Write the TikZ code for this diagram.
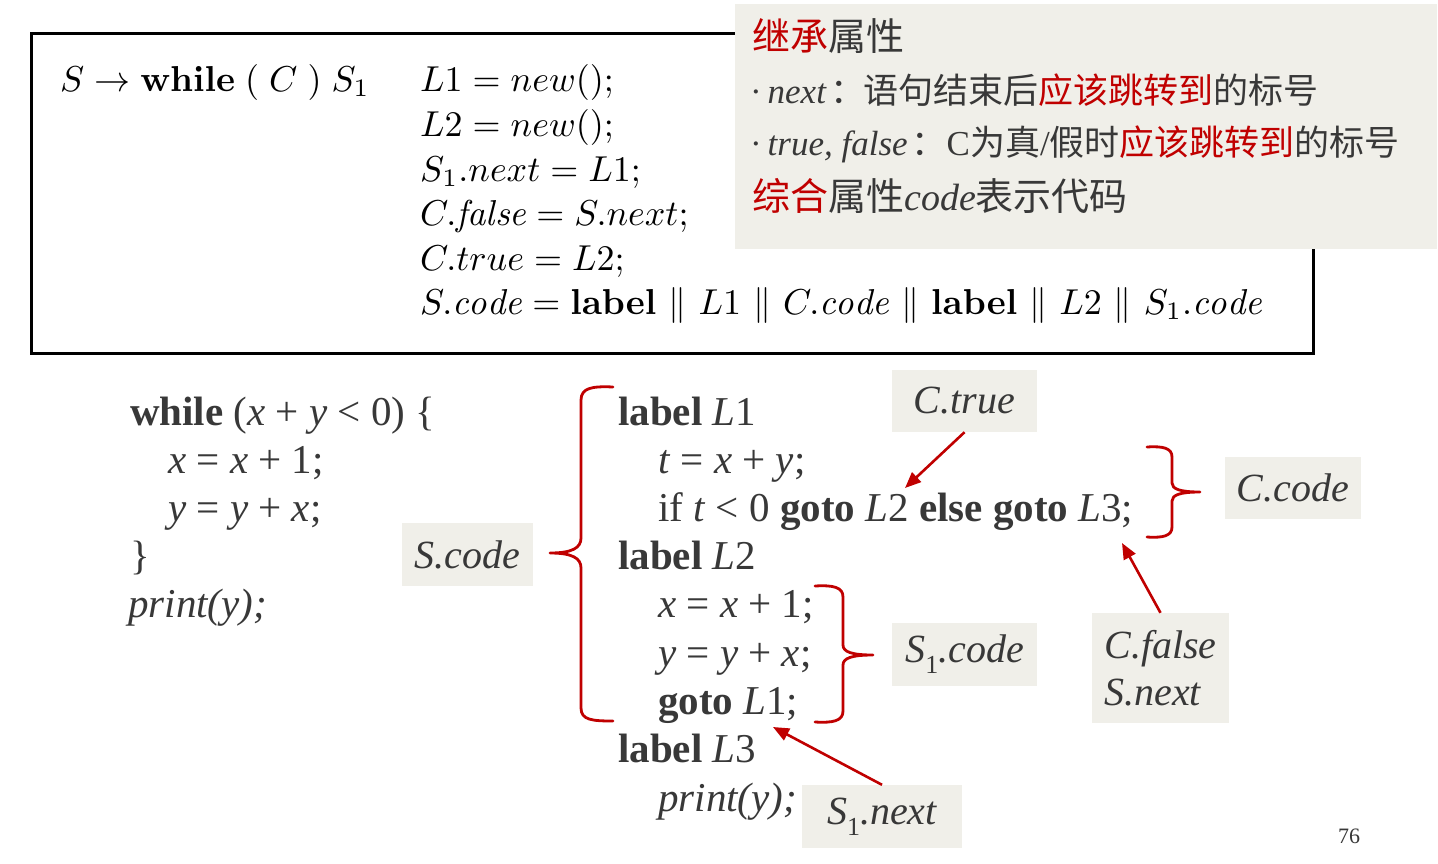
\documentclass[tikz,border=0pt]{standalone}
\usepackage{graphicx}
\usepackage{fontspec}
\newfontfamily\cjk{Noto Sans CJK SC}
\newfontfamily\pal{Liberation Serif}
\usetikzlibrary{arrows.meta}
\definecolor{dred}{HTML}{C00000}
\definecolor{notebg}{HTML}{F0EFE9}
\definecolor{txt}{HTML}{383838}
\newcommand\zh[1]{{\cjk #1}}
\newcommand\subone{\raisebox{-0.28em}{\upshape\fontsize{26}{26}\selectfont 1}}
\newcommand\bigmath[1]{\scalebox{3.6}{\fontsize{10}{12}\selectfont$#1$}}
\newcommand\cmbx[1]{\hbox{\usefont{OT1}{cmr}{bx}{n}#1}}
\newcommand\pll{\mathrel{\mkern1mu\|\mkern1mu}}
\begin{document}
\begin{tikzpicture}[x=1pt,y=-1pt,
  toptxt/.style={anchor=base west,inner sep=0pt,text=black},
  codetxt/.style={anchor=base west,inner sep=0pt,font=\pal\fontsize{41}{48}\selectfont,text=txt},
  notetxt/.style={anchor=base west,inner sep=0pt,font=\pal\fontsize{35}{42}\selectfont,text=txt},
  notebig/.style={notetxt,font=\pal\fontsize{38}{44}\selectfont},
  tag/.style={fill=notebg,inner sep=0pt,font=\pal\itshape\fontsize{40}{47}\selectfont,text=txt},
  bracestyle/.style={draw=dred,line width=2.8pt,line join=round,line cap=round},
  arr/.style={draw=dred,line width=2.6pt,-{Triangle[length=16pt,width=13pt]}}]
\useasboundingbox (0,0) rectangle (1438,863);
\fill[white] (0,0) rectangle (1438,863);

% top rule box
\draw[line width=3pt] (31,33) rectangle (1313,353);
\node[toptxt] (prod) at (60,91) {\bigmath{S \rightarrow \cmbx{while}\;(\;C\;)\;S_1}};
\node[toptxt] (r1) at (420,91) {\bigmath{L1 = new();}};
\node[toptxt] (r2) at (420,136) {\bigmath{L2 = new();}};
\node[toptxt] (r3) at (420,181) {\bigmath{S_1.next = L1;}};
\node[toptxt] (r4) at (420,225) {\bigmath{C.\mathit{false} = S.next;}};
\node[toptxt] (r5) at (420,270) {\bigmath{C.true = L2;}};
\node[toptxt] (r6) at (420,314) {\bigmath{S.\mathit{code} = \cmbx{label} \pll L1 \pll C.\mathit{code} \pll \cmbx{label} \pll L2 \pll S_1.\mathit{code}}};

% note box
\fill[notebg] (735,4) rectangle (1437,249);
\node[notebig] (n1) at (752,50) {\zh{\textcolor{dred}{继承}属性}};
\node[notetxt] (n2) at (750,103) {·\,\textit{next}\hspace{4pt}\zh{：\hspace{-2pt}语句结束后\textcolor{dred}{应该跳转到}的标号}};
\node[notetxt] (n3) at (750,155) {·\,\textit{true, false}\hspace{4pt}\zh{：}C\zh{为真}/\zh{假时\textcolor{dred}{应该跳转到}的标号}};
\node[notebig] (n4) at (752,210) {\zh{\textcolor{dred}{综合}属性}\textit{code}\zh{表示代码}};

% source code
\node[codetxt] (w1) at (130,425) {\textbf{while} (\textit{x} + \textit{y} < 0) \{};
\node[codetxt] (w2) at (168,473) {\textit{x} = \textit{x} + 1;};
\node[codetxt] (w3) at (168,521) {\textit{y} = \textit{y} + \textit{x};};
\node[codetxt] (w4) at (130,569) {\}};
\node[codetxt] (w5) at (128,617) {\textit{print(y);}};

% generated code
\node[codetxt] (m1) at (618,425) {\textbf{label} \textit{L}1};
\node[codetxt] (m2) at (658,473) {\textit{t} = \textit{x} + \textit{y};};
\node[codetxt] (m3) at (658,521) {if \textit{t} < 0 \textbf{goto} \textit{L}2 \textbf{else goto} \textit{L}3;};
\node[codetxt] (m4) at (618,569) {\textbf{label} \textit{L}2};
\node[codetxt] (m5) at (658,617) {\textit{x} = \textit{x} + 1;};
\node[codetxt] (m6) at (658,666) {\textit{y} = \textit{y} + \textit{x};};
\node[codetxt] (m7) at (658,714) {\textbf{goto} \textit{L}1;};
\node[codetxt] (m8) at (618,762) {\textbf{label} \textit{L}3};
\node[codetxt] (m9) at (658,811) {\textit{print(y);}};

% braces
\draw[bracestyle] (613,387) .. controls (592,386) and (581,388) .. (581,400) -- (581,538)
  .. controls (581,548) and (572,553) .. (550,553)
  .. controls (572,553) and (581,558) .. (581,568) -- (581,708)
  .. controls (581,720) and (592,721) .. (613,721);
\draw[bracestyle] (1147,447) .. controls (1163,446) and (1172,448) .. (1172,457) -- (1172,483)
  .. controls (1172,489) and (1180,492) .. (1200,492)
  .. controls (1180,492) and (1172,495) .. (1172,501) -- (1172,527)
  .. controls (1172,536) and (1163,538) .. (1147,537);
\draw[bracestyle] (815,586) .. controls (833,585) and (843,587) .. (843,597) -- (843,645)
  .. controls (843,652) and (852,655) .. (873,655)
  .. controls (852,655) and (843,658) .. (843,665) -- (843,711)
  .. controls (843,721) and (833,723) .. (815,722);

% tags
\node[tag,minimum width=145pt,minimum height=62pt] (ctrue) at (964.5,401) {C.true};
\node[tag,minimum width=136pt,minimum height=62pt] (ccode) at (1293,488) {C.code};
\node[tag,minimum width=131pt,minimum height=63pt] (scode) at (467.5,554.5) {S.code};
\node[tag,minimum width=145pt,minimum height=63pt] (s1code) at (964.5,654.5) {S\subone.code};
\node[tag,minimum width=137pt,minimum height=110pt,align=left] (cfalse) at (1160.5,668) {C.false\\S.next};
\node[tag,minimum width=160pt,minimum height=63pt] (s1next) at (882,816.5) {S\subone.next\hspace{8pt}};

% arrows
\coordinate (ctrueend) at (905,488);
\coordinate (cfalseend) at (1122,543);
\coordinate (s1nextend) at (773,727);
\draw[arr] (ctrue.south) -- (ctrueend);
\draw[arr] (cfalse.north) -- (cfalseend);
\draw[arr] (s1next.north) -- (s1nextend);

% page number
\node[inner sep=0pt,font=\pal\fontsize{22}{24}\selectfont,text=txt] (pno) at (1349,836) {76};
\end{tikzpicture}
\end{document}
